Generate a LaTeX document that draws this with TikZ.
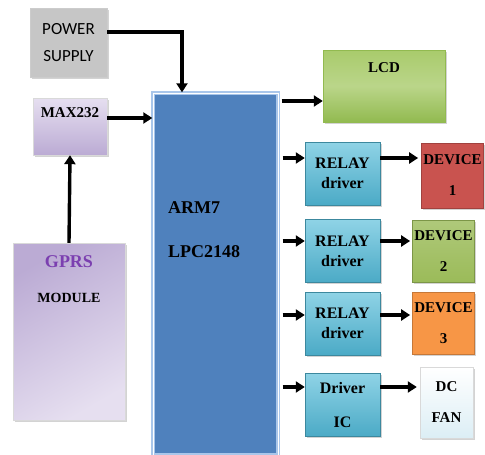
\documentclass[tikz,border=0pt]{standalone}
\usepackage{fontspec}
\setmainfont{Liberation Serif}
\newfontfamily\psfont{Carlito}
\usetikzlibrary{positioning, arrows.meta, shadows}

\definecolor{psgray}{HTML}{C6C6C6}
\definecolor{lavtop}{HTML}{E6DFF0}
\definecolor{lavbot}{HTML}{BBABD4}
\definecolor{armblue}{HTML}{4F81BD}
\definecolor{armedge}{HTML}{A9C6EA}
\definecolor{lcdtop}{HTML}{A9CB6C}
\definecolor{lcdbot}{HTML}{92BA50}
\definecolor{reltop}{HTML}{8FD3E6}
\definecolor{relbot}{HTML}{4BAAC6}
\definecolor{devred}{HTML}{C9534F}
\definecolor{devgreen}{HTML}{9BBB59}
\definecolor{devorange}{HTML}{F79646}
\definecolor{fantop}{HTML}{FFFFFF}
\definecolor{fanbot}{HTML}{DCEEF5}
\definecolor{gprspurple}{HTML}{7B3FB0}

\begin{document}
\begin{tikzpicture}[
  x=1pt, y=-1pt,
  every node/.style={font=\bfseries\fontsize{15}{18}\selectfont},
  box/.style={draw=black!25, line width=0.4pt, inner sep=2pt, align=center,
              drop shadow={shadow xshift=1.5pt, shadow yshift=-1.5pt, opacity=0.35}},
  psbox/.style={box, fill=psgray, draw=black!20},
  lavbox/.style={box, top color=lavtop, bottom color=lavbot, draw=black!15},
  armbox/.style={draw=armedge, double=white, double distance=0.8pt, line width=1.4pt,
                 fill=armblue},
  lcdbox/.style={box, top color=lcdtop, bottom color=lcdbot, middle color=lcdtop!80!white, draw=lcdbot},
  relbox/.style={box, top color=reltop, bottom color=relbot, draw=relbot!80!black,
                 minimum width=75, minimum height=63,
                 font=\bfseries\fontsize{16}{20}\selectfont},
  devbox/.style={box, minimum width=57, minimum height=62,
                 font=\bfseries\fontsize{15}{31}\selectfont},
  arr/.style={-{Triangle[length=9pt,width=11pt]}, line width=3.4pt, draw=black},
  txt/.style={inner sep=0pt, align=center},
]
\useasboundingbox (0,0) rectangle (485,455);

% --- row heights of the output arrows ---
\def\yL{101}
\def\yA{158}
\def\yB{241}
\def\yC{315}
\def\yD{387}

% --- left column ---
\node[psbox, minimum width=77, minimum height=69, font=\psfont\fontsize{17}{27}\selectfont]
  (ps) at (68.5,42.5) {POWER\\SUPPLY};
\node[lavbox, minimum width=74, minimum height=57] (max) at (70,126.5) {};
\node[txt] (maxt) at (70,113) {MAX232};
\node[lavbox, minimum width=112, minimum height=177,
      left color=lavbot, right color=lavtop, shading angle=30] (gprs) at (69,331.5) {};
\node[txt, text=gprspurple, font=\bfseries\fontsize{18}{20}\selectfont] (gprst) at (69,262) {GPRS};
\node[txt, font=\bfseries\fontsize{14}{16}\selectfont] (gprsm) at (69,298) {MODULE};

% --- controller ---
\node[armbox, minimum width=125, minimum height=362] (arm) at (215.5,274) {};
\node[txt, anchor=west, align=left, font=\bfseries\fontsize{18}{44}\selectfont]
  (armt) at (168,230) {ARM7\\LPC2148};

% --- outputs ---
\node[lcdbox, minimum width=122, minimum height=72] (lcd) at (384,86) {};
\node[txt] (lcdt) at (384,68) {LCD};

\node[relbox] (r1) at (342.5,173.5) {RELAY\\driver};
\node[relbox] (r2) at (342.5,251)   {RELAY\\driver};
\node[relbox] (r3) at (342.5,323.5) {RELAY\\driver};
\node[relbox, font=\bfseries\fontsize{16}{34}\selectfont] (r4) at (342.5,405) {Driver\\IC};

\node[devbox, fill=devred, draw=devred!80!black, minimum width=61, minimum height=65]
  (d1) at (452.5,175.5) {DEVICE\\1};
\node[devbox, top color=devgreen!80!white, bottom color=devgreen, draw=devgreen!80!black]
  (d2) at (443.5,251) {DEVICE\\2};
\node[devbox, fill=devorange, draw=devorange!80!black]
  (d3) at (443.5,323.5) {DEVICE\\3};
\node[devbox, top color=fantop, bottom color=fanbot, draw=black!15,
      minimum width=53, minimum height=71] (fan) at (446.5,402.5) {DC\\FAN};

% --- connections ---
\draw[arr] (ps.east |- 0,32) -| (182,0 |- arm.north);
\draw[arr] (max.east |- 0,118) -- (arm.west |- 0,118);
\draw[arr] (gprs.north) -- (max.south);
\draw[arr, shorten <=3pt] (arm.east |- 0,\yL) -- (lcd.west |- 0,\yL);

\draw[arr, shorten <=4pt] (arm.east |- 0,\yA) -- (r1.west |- 0,\yA);
\draw[arr, shorten <=4pt] (arm.east |- 0,\yB) -- (r2.west |- 0,\yB);
\draw[arr, shorten <=4pt] (arm.east |- 0,\yC) -- (r3.west |- 0,\yC);
\draw[arr, shorten <=4pt] (arm.east |- 0,\yD) -- (r4.west |- 0,\yD);

\draw[arr, shorten >=3pt] (r1.east |- 0,\yA) -- (d1.west |- 0,\yA);
\draw[arr, shorten >=2pt] (r2.east |- 0,\yB) -- (d2.west |- 0,\yB);
\draw[arr, shorten >=2pt] (r3.east |- 0,\yC) -- (d3.west |- 0,\yC);
\draw[arr, shorten >=3pt] (r4.east |- 0,\yD) -- (fan.west |- 0,\yD);

\end{tikzpicture}
\end{document}
